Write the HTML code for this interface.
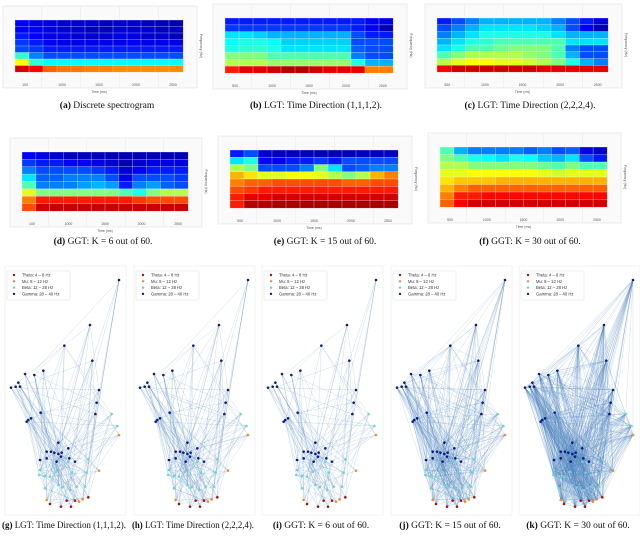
<!DOCTYPE html>
<html><head><meta charset="utf-8">
<style>
html,body{margin:0;padding:0;background:#fff;}
svg{display:block;font-family:"Liberation Serif",serif;}
.cap{font-size:9.5px;fill:#111;text-anchor:middle;}
.tk{font-family:"Liberation Sans",sans-serif;font-size:3.5px;fill:#555;}
.lg{font-family:"Liberation Sans",sans-serif;font-size:4.2px;fill:#333;}
</style></head>
<body>
<svg id="fig" width="640" height="538" viewBox="0 0 640 538"></svg>
<script>
// ---- spectrogram data (rows top -> bottom, 0 = dark blue, 1 = dark red)
const specA = [
[.12,.1,.1,.08,.08,.08,.06,.08,.08,.06,.06,.05],
[.12,.12,.1,.08,.08,.06,.06,.08,.08,.08,.06,.06],
[.15,.12,.1,.1,.08,.08,.08,.1,.1,.08,.08,.06],
[.18,.15,.12,.1,.1,.1,.1,.1,.12,.1,.1,.1],
[.2,.18,.15,.15,.15,.15,.15,.15,.15,.15,.15,.15],
[.42,.25,.2,.2,.2,.2,.2,.2,.2,.2,.2,.2],
[.62,.42,.38,.38,.38,.38,.38,.38,.38,.38,.38,.38],
[.92,.88,.78,.76,.76,.75,.75,.74,.74,.74,.74,.74]];
const specB = [
[.15,.15,.15,.15,.15,.15,.15,.15,.15,.15,.12,.1],
[.18,.18,.18,.18,.18,.18,.18,.18,.18,.15,.12,.05],
[.35,.35,.33,.3,.3,.3,.3,.3,.3,.2,.15,.15],
[.38,.4,.4,.38,.33,.33,.33,.33,.33,.2,.2,.2],
[.4,.42,.42,.4,.35,.35,.35,.35,.35,.22,.2,.2],
[.5,.5,.5,.45,.45,.45,.45,.45,.45,.25,.2,.2],
[.55,.55,.55,.52,.52,.52,.52,.52,.52,.4,.3,.3],
[.85,.9,.9,.92,.95,.95,.92,.9,.9,.9,.75,.75]];
const specC = [
[.15,.2,.25,.3,.3,.3,.3,.3,.25,.2,.15,.1],
[.2,.25,.3,.35,.35,.35,.35,.33,.3,.2,.12,.05],
[.25,.3,.35,.4,.4,.4,.4,.4,.35,.3,.3,.3],
[.3,.35,.4,.42,.45,.45,.45,.45,.45,.35,.35,.35],
[.35,.4,.45,.45,.48,.5,.5,.5,.45,.25,.2,.2],
[.45,.5,.55,.55,.55,.55,.52,.5,.45,.3,.2,.2],
[.55,.6,.62,.62,.6,.6,.58,.55,.5,.4,.3,.25],
[.88,.92,.92,.92,.92,.92,.92,.9,.9,.9,.9,.9]];
const specD = [
[.12,.1,.08,.06,.06,.06,.05,.05,.05,.05,.05,.05],
[.18,.15,.15,.12,.12,.1,.08,.05,.08,.1,.1,.1],
[.25,.2,.2,.2,.2,.18,.15,.08,.12,.15,.15,.15],
[.35,.22,.22,.25,.25,.25,.2,.1,.2,.2,.2,.18],
[.45,.25,.25,.25,.28,.3,.28,.15,.25,.28,.22,.2],
[.6,.5,.5,.5,.5,.5,.5,.45,.4,.5,.55,.55],
[.75,.85,.85,.85,.85,.85,.85,.85,.82,.8,.8,.8],
[.8,.92,.93,.93,.93,.93,.93,.93,.93,.93,.93,.93]];
const specE = [
[.15,.2,.08,.06,.06,.06,.05,.05,.05,.06,.06,.06],
[.35,.4,.12,.12,.15,.15,.18,.15,.2,.2,.2,.2],
[.55,.5,.2,.2,.2,.25,.5,.35,.2,.22,.25,.25],
[.7,.65,.6,.6,.62,.62,.6,.55,.5,.55,.7,.75],
[.75,.78,.78,.8,.8,.8,.8,.8,.78,.78,.8,.8],
[.8,.82,.85,.85,.85,.85,.85,.85,.85,.85,.85,.85],
[.85,.9,.9,.92,.92,.92,.92,.92,.92,.92,.92,.92],
[.85,.95,.95,.96,.96,.96,.96,.96,.96,.96,.96,.96]];
const specF = [
[.45,.3,.25,.25,.25,.25,.22,.25,.2,.22,.1,.08],
[.5,.45,.4,.38,.35,.4,.38,.32,.3,.35,.2,.15],
[.55,.55,.5,.5,.5,.5,.5,.48,.45,.5,.45,.45],
[.6,.6,.62,.62,.62,.62,.62,.6,.58,.6,.6,.6],
[.65,.68,.68,.68,.7,.7,.7,.7,.7,.7,.7,.7],
[.7,.75,.78,.78,.78,.78,.78,.78,.78,.78,.78,.78],
[.75,.85,.85,.87,.87,.87,.87,.87,.87,.87,.87,.87],
[.78,.88,.92,.92,.92,.92,.92,.92,.92,.92,.92,.92]];
const timeTicksA = ["100","1000","1500","2000","2500"];
const timeTicksB = ["500","1000","1500","2000","2500"];
const captions = ["Discrete spectrogram","LGT: Time Direction (1,1,1,2).","LGT: Time Direction (2,2,2,4).","GGT: K = 6 out of 60.","GGT: K = 15 out of 60.","GGT: K = 30 out of 60."];
const graphCaptions = ["LGT: Time Direction (1,1,1,2).","LGT: Time Direction (2,2,2,4).","GGT: K = 6 out of 60.","GGT: K = 15 out of 60.","GGT: K = 30 out of 60."];
const legendLabels = ["Theta: 4 \u2013 8 Hz","Mu: 8 \u2013 12 Hz","Beta: 12 \u2013 28 Hz","Gamma: 28 \u2013 40 Hz"];
// ---- graph node data (position in panel coordinates, band index)
const nodeX = [357,270,193,277,297,290,286,130,103,75,33,47,60,55,122,93,85,80,175,140,153,163,175,185,205,120,140,170,183,208,225,
 335,352,120,118,135,150,168,215,265,260,135,175,188,210,230,255,205,
 357,297,140,237,248, 150,183,213,200,225,265];
const nodeY = [90,225,287,332,420,458,492,362,375,372,413,410,410,398,488,505,510,515,578,605,605,608,612,608,595,630,625,635,620,625,635,
 492,528,660,675,678,680,665,668,628,668,715,705,712,720,710,710,635,
 555,662,750,755,748, 762,770,770,752,752,742];
const nodeBand = [3,3,3,3,3,3,3,3,3,3,3,3,3,3,3,3,3,3,3,3,3,3,3,3,3,3,3,3,3,3,3,
 2,2,2,2,2,2,2,2,2,2,2,2,2,2,2,2,2,
 1,1,1,1,1, 0,0,0,0,0,0];
const edgeDensity = [12,13,9,25,55];

const NS="http://www.w3.org/2000/svg";
const svg=document.getElementById('fig');
function mk(tag,attrs,parent){const e=document.createElementNS(NS,tag);for(const k in attrs)e.setAttribute(k,attrs[k]);(parent||svg).appendChild(e);return e;}
function jet(v){v=Math.max(0,Math.min(1,v));
 const r=Math.max(0,Math.min(1,1.5-Math.abs(4*v-3))),g=Math.max(0,Math.min(1,1.5-Math.abs(4*v-2))),b=Math.max(0,Math.min(1,1.5-Math.abs(4*v-1)));
 return `rgb(${Math.round(r*255)},${Math.round(g*255)},${Math.round(b*255)})`;}

const specs=[specA,specB,specC,specD,specE,specF];
const rects=[[15,20,168,52],[225,18,168,55],[437,18,171,54],[22,152,166,59],[230,150,168,58],[440,147,167,60]];
const capY=[108,108,108,244,244,244], capX=[107,316,530,103,325,530];
const letters="abcdefghijk";
specs.forEach((data,p)=>{
 const [x0,y0,w,h]=rects[p];
 const g=mk('g',{});
 
 
 const box=mk('rect',{x:x0-12,y:y0-14,width:w+26,height:h+30,fill:'#fafafa',stroke:'#e2e2e2','stroke-width':0.6},g);
 
 
 for(let i=1;i<5;i++){mk('line',{x1:x0-12+i*(w+26)/5,y1:y0-14,x2:x0-12+i*(w+26)/5,y2:y0+h+16,stroke:'#e8e8e8','stroke-width':0.5},g);}
 const rows=data.length, cols=data[0].length, cw=w/cols, ch=h/rows;
 data.forEach((row,r)=>row.forEach((v,c)=>{
  const cell=mk('rect',{x:x0+c*cw,y:y0+r*ch,width:cw+0.2,height:ch+0.2,fill:jet(v),stroke:'rgba(255,255,255,0.55)','stroke-width':0.5},g);
  
  
 }));
 const ticks=p===0||p===3?timeTicksA:timeTicksB;
 ticks.forEach((t,i)=>{const tx=x0+w*(0.06+i*0.22);
  const tt=mk('text',{x:tx,y:y0+h+14,class:'tk','text-anchor':'middle'},g);tt.textContent=t;
  });
 const xl=mk('text',{x:x0+w/2,y:y0+h+21,class:'tk','text-anchor':'middle','font-size':'4.5px'},g);xl.textContent='Time (ms)';
 
 const yl=mk('text',{x:0,y:0,class:'tk','text-anchor':'middle','font-size':'4.5px',transform:`translate(${x0+w+17},${y0+h/2}) rotate(90)`},g);yl.textContent='Frequency (Hz)';
 
 const cap=mk('text',{x:capX[p],y:capY[p],class:'cap'});
 
 const b=mk('tspan',{'font-weight':'bold'},cap);b.textContent='('+letters[p]+') ';
 const s=mk('tspan',{},cap);s.textContent=captions[p];
});

// ---- graphs
const offs=[0,129,257,386,514];
const bandColor=['#a3140f','#fb8a26','#66d8cf','#0c1a88'];
const capLen=[124,122,0,0,0];
offs.forEach((ox,p)=>{
 const g=mk('g',{});
 
 
 const fr=mk('rect',{x:ox+5,y:266,width:121,height:249,fill:'none',stroke:'#ececec','stroke-width':0.6},g);
 
 const X=i=>ox+nodeX[i]/3, Y=i=>250+nodeY[i]/3;
 const n=nodeX.length, th=edgeDensity[p];
 for(let i=0;i<n;i++)for(let j=i+1;j<n;j++){
  if(((i*31+j*17)%97)<th){
   const e=mk('line',{x1:X(i),y1:Y(i),x2:X(j),y2:Y(j),stroke:'#4a80bb','stroke-opacity':0.3,'stroke-width':0.45},g);
   
  }}
 for(let i=0;i<n;i++){
  const c=mk('circle',{cx:X(i),cy:Y(i),r:1.3,fill:bandColor[nodeBand[i]]},g);
  
 }
 const lg=mk('g',{},g);
 
 mk('rect',{x:ox+7,y:271,width:63,height:29,fill:'rgba(255,255,255,0.9)',stroke:'#ddd','stroke-width':0.5,rx:1},lg);
 legendLabels.forEach((t,k)=>{
  const en=mk('g',{},lg);
  mk('circle',{cx:ox+14,cy:275+k*6.3,r:1.2,fill:bandColor[k]},en);
  const tx=mk('text',{x:ox+22,y:276.5+k*6.3,class:'lg'},en);tx.textContent=t;
 });
 const ca={x:ox+64,y:528,class:'cap','font-size':'8.6px'};
 if(capLen[p]){ca.textLength=capLen[p];ca.lengthAdjust='spacingAndGlyphs';}
 const cap=mk('text',ca);
 
 const b=mk('tspan',{'font-weight':'bold'},cap);b.textContent='('+letters[p+6]+') ';
 const s=mk('tspan',{},cap);s.textContent=graphCaptions[p];
});
</script>
</body></html>
